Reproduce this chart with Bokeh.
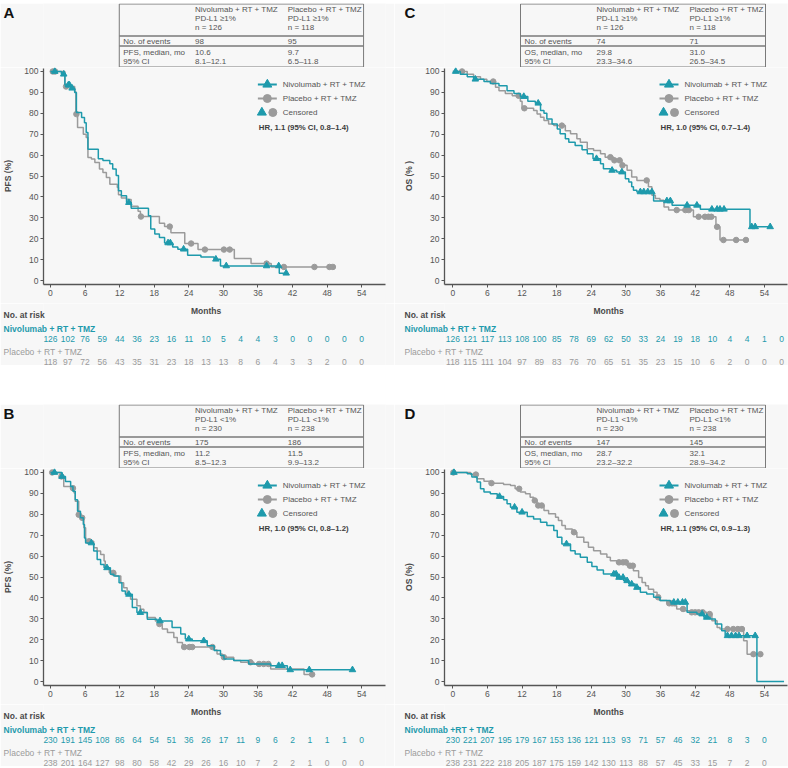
import numpy as np
from bokeh.plotting import figure
from bokeh.layouts import column, row
from bokeh.models import Range1d, Spacer, FixedTicker
from bokeh.core.properties import value
from bokeh.embed import file_html
from bokeh.resources import INLINE

TEAL = "#1e9aac"
GRAY = "#9b9b9b"
TXT = "#555555"
DARK = "#3c3c3c"
BG = "#f7f7f7"
FONT = "Liberation Sans"

X_TICKS = [0, 6, 12, 18, 24, 30, 36, 42, 48, 54]
Y_TICKS = [0, 10, 20, 30, 40, 50, 60, 70, 80, 90, 100]
RISK_MONTHS = [0, 3, 6, 9, 12, 15, 18, 21, 24, 27, 30, 33, 36, 39, 42, 45, 48, 51, 54, 57]

NIV_NAME = "Nivolumab + RT + TMZ"
PLA_NAME = "Placebo + RT + TMZ"

# ---------------- Panel A : PFS, PD-L1 >=1% ----------------
A_NIV_T = [1.9, 2.5, 3.5, 4.2, 4.5, 5.4, 5.9, 6.2, 6.5, 8.3, 9.1, 10.3, 10.8, 11.4, 11.8,
           12.3, 13.2, 14.0, 17.0, 17.4, 18.1, 18.9, 19.8, 21.2, 22.1, 23.8, 26.1, 28.4, 29.5, 39.7]
A_NIV_S = [98.7, 93.5, 92.0, 90.0, 80.4, 78.0, 75.5, 70.8, 62.8, 58.2, 57.4, 55.8, 53.4, 50.2, 42.9,
           40.5, 37.3, 34.6, 31.0, 24.6, 22.2, 20.6, 18.0, 16.0, 15.0, 12.1, 11.3, 10.2, 7.0, 3.5]
A_NIV_C = [0.75, 2.3, 3.1, 3.3, 3.75, 13.6, 20.4, 20.8, 23.1, 28.7, 30.5, 37.5, 39.6, 40.9]
A_NIV_END = 40.9
A_PLA_T = [2.5, 4.2, 4.4, 4.7, 5.7, 6.2, 6.5, 7.1, 7.7, 8.5, 9.1, 9.7, 10.3, 11.6, 11.8,
           12.3, 13.2, 14.0, 15.2, 15.6, 18.9, 19.8, 20.9, 23.3, 25.6, 31.9, 34.8, 38.3]
A_PLA_S = [92.8, 90.3, 79.6, 73.2, 70.0, 68.4, 58.9, 58.1, 56.5, 53.3, 51.7, 49.3, 46.1, 44.5, 41.0,
           39.5, 38.7, 35.5, 33.1, 30.6, 27.4, 25.8, 22.9, 17.7, 14.8, 10.5, 8.1, 6.5]
A_PLA_C = [0.4, 0.8, 2.7, 4.5, 15.7, 20.7, 24.4, 26.8, 30.1, 31.1, 37.5, 40.5, 45.8, 48.4, 49.0]
A_PLA_END = 49.0
A_RISK_NIV = [126, 102, 76, 59, 44, 36, 23, 16, 11, 10, 5, 4, 4, 3, 0, 0, 0, 0, 0]
A_RISK_PLA = [118, 97, 72, 56, 43, 35, 31, 23, 18, 13, 13, 8, 6, 4, 3, 3, 2, 0, 0]

# ---------------- Panel B : PFS, PD-L1 <1% ----------------
B_NIV_T = [2.0, 2.6, 3.5, 3.9, 4.3, 4.7, 5.2, 5.7, 5.9, 6.1, 7.5, 8.1, 8.7, 9.3, 10.4,
           11.0, 11.9, 12.4, 13.0, 14.2, 15.0, 16.8, 18.5, 21.1, 22.6, 23.4, 24.6, 27.2, 28.4, 29.5,
           30.1, 31.8, 34.4, 38.2, 41.1]
B_NIV_S = [98.1, 95.7, 93.3, 91.0, 87.0, 81.4, 78.3, 75.1, 68.7, 66.3, 62.4, 58.4, 56.0, 54.4, 51.3,
           50.5, 47.3, 43.3, 41.7, 35.4, 33.0, 29.8, 29.0, 25.9, 22.7, 20.3, 19.5, 17.1, 14.8, 12.4,
           10.8, 10.0, 8.4, 7.6, 5.6]
B_NIV_C = [0.7, 2.0, 7.1, 9.8, 13.6, 15.6, 19.0, 24.0, 26.6, 39.6, 40.2, 41.6, 44.9, 52.4]
B_NIV_END = 52.4
B_PLA_T = [1.7, 2.3, 3.5, 4.1, 4.3, 4.9, 5.3, 5.8, 6.1, 7.5, 8.1, 8.7, 9.3, 9.5, 10.2,
           11.3, 12.2, 12.7, 13.3, 13.9, 15.0, 15.6, 16.2, 16.8, 18.2, 18.8, 19.4, 20.3, 21.4, 22.0,
           22.9, 28.4, 28.9, 29.8, 31.8, 33.0, 35.3, 38.2, 44.0]
B_PLA_S = [98.1, 93.3, 92.5, 90.2, 86.2, 79.8, 78.3, 73.5, 67.1, 64.0, 62.4, 60.8, 57.6, 54.4, 52.0,
           50.5, 47.3, 44.9, 41.7, 39.4, 36.2, 34.6, 33.0, 30.6, 29.0, 27.5, 25.1, 23.5, 21.1, 18.7,
           16.5, 15.1, 13.2, 11.6, 10.0, 9.2, 8.4, 6.0, 3.4]
B_PLA_C = [0.3, 1.9, 3.9, 4.9, 5.5, 6.7, 10.9, 18.9, 23.2, 24.1, 24.6, 28.1, 30.1, 34.7, 36.2, 37.0, 37.8, 45.4]
B_PLA_END = 45.4
B_RISK_NIV = [230, 191, 145, 108, 86, 64, 54, 51, 36, 26, 17, 11, 9, 6, 2, 1, 1, 1, 0]
B_RISK_PLA = [238, 201, 164, 127, 98, 80, 58, 42, 29, 26, 16, 10, 7, 2, 2, 1, 0, 0, 0]

# ---------------- Panel C : OS, PD-L1 >=1% ----------------
C_NIV_T = [1.3, 2.5, 3.6, 5.4, 6.5, 8.0, 9.4, 10.6, 11.7, 13.0, 14.3, 15.2, 15.8, 16.3, 17.2,
           18.1, 18.6, 19.5, 20.1, 21.2, 22.4, 23.3, 24.3, 25.6, 26.1, 27.3, 28.4, 29.9, 30.5, 31.0,
           31.3, 31.9, 34.8, 38.0, 42.9, 51.5]
C_NIV_S = [98.7, 97.5, 96.3, 95.2, 94.3, 93.2, 90.8, 89.5, 88.0, 85.7, 84.8, 81.3, 80.0, 77.3, 74.9,
           72.5, 70.2, 67.8, 66.2, 64.6, 62.5, 60.6, 58.3, 55.9, 53.5, 52.7, 51.9, 48.7, 47.1, 44.8,
           43.2, 42.4, 38.1, 36.0, 34.1, 25.7]
C_NIV_C = [0.5, 3.9, 12.3, 14.8, 24.9, 27.6, 29.3, 32.5, 33.1, 33.8, 34.5, 37.1, 37.7, 40.6, 42.3,
           44.9, 45.8, 46.3, 47.0, 51.8, 52.4, 55.0]
C_NIV_END = 55.0
C_PLA_T = [2.5, 3.6, 4.8, 5.9, 7.4, 8.0, 9.1, 10.3, 11.7, 12.0, 14.0, 14.6, 15.2, 15.8, 16.6,
           17.5, 19.5, 20.4, 21.5, 22.1, 23.3, 24.4, 25.6, 26.4, 27.9, 29.3, 30.2, 31.0, 31.9, 33.9,
           34.5, 35.1, 35.9, 36.6, 37.4, 41.7, 45.6, 46.3]
C_PLA_S = [98.7, 97.5, 96.3, 95.2, 92.4, 90.8, 89.5, 88.4, 85.7, 82.4, 81.3, 79.7, 78.1, 76.5, 74.9,
           74.1, 71.7, 70.2, 67.8, 66.2, 63.0, 62.2, 60.6, 59.0, 57.5, 55.1, 52.7, 49.5, 47.9, 44.8,
           40.8, 39.2, 38.4, 35.2, 33.7, 30.5, 25.7, 19.4]
C_PLA_C = [1.6, 7.0, 11.4, 12.4, 18.9, 27.3, 28.0, 28.9, 29.4, 33.6, 38.8, 40.3, 40.9, 42.6, 43.7,
           44.3, 44.8, 45.8, 46.9, 49.1, 50.8]
C_PLA_END = 50.8
C_RISK_NIV = [126, 121, 117, 113, 108, 100, 85, 78, 69, 62, 50, 33, 24, 19, 18, 10, 4, 4, 1, 0]
C_RISK_PLA = [118, 115, 111, 104, 97, 89, 83, 76, 70, 65, 51, 35, 23, 15, 10, 6, 2, 0, 0, 0]

# ---------------- Panel D : OS, PD-L1 <1% ----------------
D_NIV_T = [2.5, 3.3, 4.2, 4.8, 5.4, 6.5, 7.7, 8.8, 9.4, 10.0, 11.1, 12.9, 14.0, 15.2, 16.3,
           17.5, 18.1, 18.9, 20.4, 21.2, 22.1, 23.3, 24.1, 25.0, 26.1, 28.4, 29.6, 30.5, 31.6, 32.5,
           33.6, 34.8, 35.9, 37.7, 40.6, 42.3, 43.5, 44.6, 45.5, 46.6, 47.2, 52.7]
D_NIV_S = [99.4, 97.8, 95.4, 92.2, 90.6, 89.8, 88.5, 86.9, 85.0, 83.4, 81.0, 78.9, 77.8, 76.2, 74.6,
           72.2, 69.0, 65.8, 62.6, 61.0, 59.4, 57.0, 55.0, 53.4, 51.4, 49.8, 48.2, 46.6, 45.0, 42.7,
           41.9, 40.3, 38.7, 37.9, 33.1, 32.3, 30.7, 29.9, 27.5, 24.3, 21.9, 0.0]
D_NIV_C = [0.2, 8.1, 10.7, 12.0, 19.7, 27.9, 28.3, 28.8, 29.5, 30.2, 31.0, 31.9, 38.3, 39.0, 39.8,
           40.3, 43.2, 44.0, 47.6, 48.3, 49.0, 49.6, 51.0, 52.4]
D_NIV_END = 57.4
D_PLA_T = [3.1, 4.2, 5.4, 6.5, 8.8, 10.0, 10.8, 11.7, 12.6, 13.4, 14.0, 14.6, 15.8, 16.6, 17.8,
           18.3, 18.9, 19.5, 20.7, 21.5, 22.7, 23.5, 24.4, 25.6, 26.7, 27.3, 28.4, 30.2, 31.3, 32.2,
           32.8, 33.4, 33.9, 34.8, 35.4, 35.9, 37.1, 38.3, 38.8, 40.0, 41.1, 44.0, 44.9, 45.8, 46.3,
           50.4, 51.0]
D_PLA_S = [99.0, 97.0, 95.8, 94.9, 94.2, 93.8, 92.2, 90.6, 89.8, 88.2, 86.6, 84.2, 81.8, 80.2, 78.6,
           77.0, 74.6, 73.0, 71.4, 69.0, 66.6, 64.2, 62.6, 61.0, 59.4, 57.8, 57.0, 55.4, 53.0, 49.8,
           47.4, 45.8, 44.2, 42.7, 40.3, 38.7, 37.4, 36.3, 34.7, 33.9, 33.1, 32.3, 29.1, 25.9, 25.1,
           19.5, 13.1]
D_PLA_C = [0.1, 4.0, 6.7, 11.5, 14.2, 14.8, 15.4, 21.0, 28.8, 29.5, 30.0, 30.7, 31.2, 35.6, 37.5,
           38.0, 39.9, 41.4, 42.0, 42.6, 43.3, 44.5, 47.6, 48.6, 49.4, 50.1, 52.1, 53.3]
D_PLA_END = 53.3
D_RISK_NIV = [230, 221, 207, 195, 179, 167, 153, 136, 121, 113, 93, 71, 57, 46, 32, 21, 8, 3, 0]
D_RISK_PLA = [238, 231, 222, 218, 205, 187, 175, 159, 142, 130, 113, 88, 57, 45, 33, 15, 7, 2, 0]

# ---------------- Tables ----------------
A_TABLE = dict(sub="PD-L1 \u22651%", n=("n = 126", "n = 118"), events=("98", "95"),
               label="PFS, median, mo", med=("10.6", "9.7"), ci=("8.1\u201312.1", "6.5\u201311.8"),
               hr="HR, 1.1 (95% CI, 0.8\u20131.4)")
B_TABLE = dict(sub="PD-L1 <1%", n=("n = 230", "n = 238"), events=("175", "186"),
               label="PFS, median, mo", med=("11.2", "11.5"), ci=("8.5\u201312.3", "9.9\u201313.2"),
               hr="HR, 1.0 (95% CI, 0.8\u20131.2)")
C_TABLE = dict(sub="PD-L1 \u22651%", n=("n = 126", "n = 118"), events=("74", "71"),
               label="OS, median, mo", med=("29.8", "31.0"), ci=("23.3\u201334.6", "26.5\u201334.5"),
               hr="HR, 1.0 (95% CI, 0.7\u20131.4)")
D_TABLE = dict(sub="PD-L1 <1%", n=("n = 230", "n = 238"), events=("147", "145"),
               label="OS, median, mo", med=("28.7", "32.1"), ci=("23.2\u201332.2", "28.9\u201334.2"),
               hr="HR, 1.1 (95% CI, 0.9\u20131.3)")

# ---------------- layout constants ----------------
W = 394
TABLE_H = 64
FRAME_H = 217
KM_BOTTOM = 19
RISK_H = 62
YLO, YHI = -1.9, 101.9


def txt(p, xs, ys, texts, size="8px", color=TXT, align="left", bold=False, outside=False):
    kw = dict(level="overlay") if outside else {}
    p.text(x=xs, y=ys, text=texts, text_font=value(FONT), text_font_size=size,
           text_color=color, text_align=align, text_baseline="middle",
           text_font_style="bold" if bold else "normal", **kw)


def plain_fig(h, xr, yr, L, R):
    p = figure(width=W, height=h, x_range=xr, y_range=yr, output_backend="svg",
               toolbar_location=None, x_axis_location=None, y_axis_location=None,
               min_border_left=L, min_border_right=W - R, min_border_top=0,
               min_border_bottom=0, outline_line_color=None,
               background_fill_color=BG, border_fill_color=BG)
    p.grid.visible = False
    return p


def step_xy(T, S, end):
    n = min(len(T), len(S))
    return [0.0] + list(T[:n]) + [end], [100.0] + list(S[:n]) + [S[n - 1]]


def censor_y(T, S, C):
    n = min(len(T), len(S))
    t = np.array(T[:n]); s = np.array(S[:n])
    idx = np.searchsorted(t, np.array(C), side="right") - 1
    return [100.0 if i < 0 else float(s[i]) for i in idx]


def build_panel(letter, ylabel, tab, niv, pla, risk_niv, risk_pla, niv_risk_name,
                L, R, LX, x0, x1, pad_top, pad_bottom):
    sx = (R - L) / (x1 - x0)
    sy = FRAME_H / (YHI - YLO)
    TL = L + 76

    # ---- table (x in panel pixels, frame spans L..R) ----
    tf = plain_fig(TABLE_H, Range1d(L, R), Range1d(TABLE_H, 0), L, R)
    tf.quad(left=[TL], right=[TL + 245], top=[0.5], bottom=[63.5], fill_color=None,
            line_color="#7a7a7a", line_width=1)
    tf.segment(x0=[TL, TL], y0=[32.5, 42.5], x1=[TL + 245, TL + 245], y1=[32.5, 42.5],
               line_color="#7a7a7a", line_width=1.3)
    txt(tf, [TL + 76] * 3, [6, 15, 24], [NIV_NAME, tab["sub"], tab["n"][0]])
    txt(tf, [TL + 169] * 3, [6, 15, 24], [PLA_NAME, tab["sub"], tab["n"][1]])
    txt(tf, [TL + 4, TL + 76, TL + 169], [37.5] * 3, ["No. of events", tab["events"][0], tab["events"][1]])
    txt(tf, [TL + 4, TL + 76, TL + 169], [48.5] * 3, [tab["label"], tab["med"][0], tab["med"][1]])
    txt(tf, [TL + 4, TL + 76, TL + 169], [57.5] * 3, ["95% CI", tab["ci"][0], tab["ci"][1]])
    txt(tf, [LX], [9], [letter], size="15px", color="#111111", bold=True, outside=True)

    # ---- KM plot ----
    xr = Range1d(x0, x1)
    km = figure(width=W, height=FRAME_H + KM_BOTTOM, x_range=xr,
                y_range=Range1d(YLO, YHI), output_backend="svg", toolbar_location=None,
                min_border_left=L, min_border_right=W - R, min_border_top=0,
                min_border_bottom=KM_BOTTOM, outline_line_color=None,
                background_fill_color=BG, border_fill_color=BG)
    km.grid.visible = False
    km.xaxis.ticker = FixedTicker(ticks=X_TICKS)
    km.yaxis.ticker = FixedTicker(ticks=Y_TICKS)
    km.yaxis.bounds = (YLO, 101.3)
    for ax in km.axis:
        ax.axis_line_color = "#555555"
        ax.axis_line_width = 1.3
        ax.major_tick_line_color = "#555555"
        ax.major_tick_out = 3
        ax.major_tick_in = 0
        ax.minor_tick_line_color = None
        ax.major_label_text_font = FONT
        ax.major_label_text_font_size = "8.5px"
        ax.major_label_text_color = TXT
        ax.major_label_standoff = 2
    km.yaxis.axis_label = ylabel
    km.yaxis.axis_label_text_font = FONT
    km.yaxis.axis_label_text_font_size = "8.5px"
    km.yaxis.axis_label_text_font_style = "bold"
    km.yaxis.axis_label_text_color = "#4a4a4a"
    km.yaxis.axis_label_standoff = 8

    for (T, S, C, end), col, mk, sz in ((pla, GRAY, "circle", 5.5), (niv, TEAL, "triangle", 6.5)):
        xs, ys = step_xy(T, S, end)
        km.step(x=xs, y=ys, mode="after", line_color=col, line_width=1.5)
        km.scatter(x=C, y=censor_y(T, S, C), marker=mk, size=sz, fill_color=col, line_color=col)

    # legend (placed by pixel offsets inside the frame)
    def lx(px):
        return x0 + (px - L) / sx

    def ly(off):
        return YHI - off / sy

    for off, col, mk, sz, name in ((17, TEAL, "triangle", 9, NIV_NAME), (31, GRAY, "circle", 8, PLA_NAME)):
        km.segment(x0=[lx(L + 215)], y0=[ly(off)], x1=[lx(L + 234)], y1=[ly(off)],
                   line_color=col, line_width=2)
        km.scatter(x=[lx(L + 224.5)], y=[ly(off)], marker=mk, size=sz, fill_color=col, line_color=col)
        txt(km, [lx(L + 240)], [ly(off)], [name])
    km.scatter(x=[lx(L + 219)], y=[ly(45)], marker="triangle", size=9, fill_color=TEAL, line_color=TEAL)
    km.scatter(x=[lx(L + 230)], y=[ly(45)], marker="circle", size=8, fill_color=GRAY, line_color=GRAY)
    txt(km, [lx(L + 240)], [ly(45)], ["Censored"])
    txt(km, [lx(L + 216)], [ly(60)], [tab["hr"]], size="7.8px", color=DARK, bold=True)

    # ---- numbers at risk (shares the months axis of the KM plot) ----
    rk = plain_fig(RISK_H, xr, Range1d(RISK_H, 0), L, R)
    lx0 = lx(LX)
    txt(rk, [27], [7], ["Months"], size="8.5px", color="#4a4a4a", align="center", bold=True)
    txt(rk, [lx0], [11], ["No. at risk"], size="8.5px", color="#4a4a4a", bold=True, outside=True)
    txt(rk, [lx0], [25], [niv_risk_name], size="8.5px", color=TEAL, bold=True, outside=True)
    txt(rk, [lx0], [48], [PLA_NAME], size="8.5px", color=GRAY, outside=True)
    txt(rk, RISK_MONTHS[:len(risk_niv)], [35] * len(risk_niv), [str(v) for v in risk_niv],
        size="8.5px", color=TEAL, align="center", outside=True)
    txt(rk, RISK_MONTHS[:len(risk_pla)], [58] * len(risk_pla), [str(v) for v in risk_pla],
        size="8.5px", color=GRAY, align="center", outside=True)

    items = []
    if pad_top > 0:
        items.append(Spacer(width=W, height=pad_top))
    items += [tf, km, rk]
    if pad_bottom > 0:
        items.append(Spacer(width=W, height=pad_bottom))
    return column(*items)


LEFT = dict(L=42, R=385, LX=2, x0=-1.21, x1=58.13)
RIGHT = dict(L=50, R=393, LX=10, x0=-1.44, x1=58.0)

pA = build_panel("A", "PFS (%)", A_TABLE, (A_NIV_T, A_NIV_S, A_NIV_C, A_NIV_END),
                 (A_PLA_T, A_PLA_S, A_PLA_C, A_PLA_END), A_RISK_NIV, A_RISK_PLA, NIV_NAME,
                 pad_top=3, pad_bottom=36, **LEFT)
pB = build_panel("B", "PFS (%)", B_TABLE, (B_NIV_T, B_NIV_S, B_NIV_C, B_NIV_END),
                 (B_PLA_T, B_PLA_S, B_PLA_C, B_PLA_END), B_RISK_NIV, B_RISK_PLA, NIV_NAME,
                 pad_top=3, pad_bottom=0, **LEFT)
pC = build_panel("C", "OS (% )", C_TABLE, (C_NIV_T, C_NIV_S, C_NIV_C, C_NIV_END),
                 (C_PLA_T, C_PLA_S, C_PLA_C, C_PLA_END), C_RISK_NIV, C_RISK_PLA, NIV_NAME,
                 pad_top=3, pad_bottom=36, **RIGHT)
pD = build_panel("D", "OS (%)", D_TABLE, (D_NIV_T, D_NIV_S, D_NIV_C, D_NIV_END),
                 (D_PLA_T, D_PLA_S, D_PLA_C, D_PLA_END), D_RISK_NIV, D_RISK_PLA,
                 "Nivolumab +RT + TMZ", pad_top=3, pad_bottom=0, **RIGHT)

layout = column(row(pA, pC), row(pB, pD))

html = file_html(layout, INLINE, title="Kaplan-Meier curves")
html = html.replace("<body>", '<body style="background-color:#f7f7f7;">', 1)
open("out.html", "w").write(html)
